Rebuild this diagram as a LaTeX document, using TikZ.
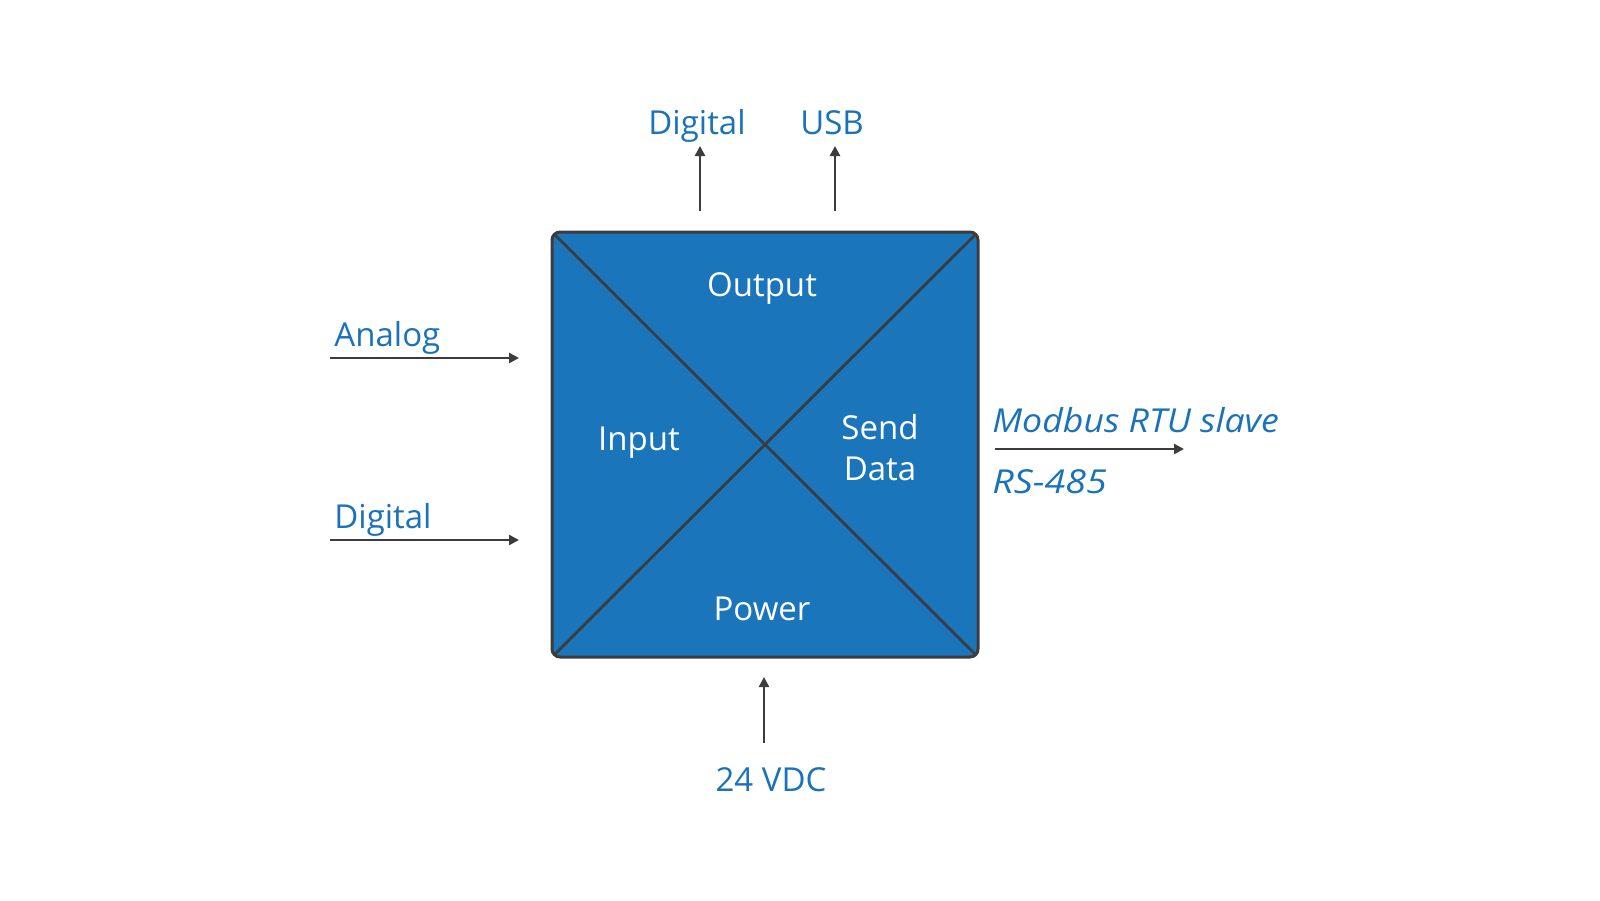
\documentclass[tikz,border=0pt]{standalone}
\usepackage{fontspec}
\setmainfont{Open Sans}
\usetikzlibrary{arrows.meta}
\definecolor{boxblue}{HTML}{1B75BB}
\definecolor{txtblue}{HTML}{1A72BA}
\definecolor{linegray}{HTML}{3C3C3E}
\tikzset{
  lbl/.style={inner sep=0pt, text=txtblue, font=\fontsize{16.5}{20}\selectfont},
  itlbl/.style={lbl, font=\fontsize{16.5}{20}\selectfont\itshape},
  inlbl/.style={inner sep=0pt, text=white, font=\fontsize{16.5}{20}\selectfont, align=center},
  conn/.style={draw=linegray, line width=1.25pt, -{Triangle[length=5pt,width=5pt]}},
  diag/.style={draw=linegray, line width=1.4pt, shorten <=1.2pt, shorten >=1.2pt},
  mainbox/.style={draw=linegray, fill=boxblue, line width=1.5pt, rounded corners=4pt}
}
\begin{document}
\begin{tikzpicture}[x=0.5pt,y=-0.5pt]
\useasboundingbox (0,0) rectangle (1600,900);
% main box
\coordinate (tl) at (552,232);
\coordinate (br) at (978,657);
\coordinate (tr) at (978,232);
\coordinate (bl) at (552,657);
\draw[mainbox] (tl) rectangle (br);
\draw[diag] (tl) -- (br);
\draw[diag] (tr) -- (bl);
% inner labels
\node[inlbl] (out) at (762,288) {Output};
\node[inlbl] (inp) at (639,443) {Input};
\node[inlbl, text width=120pt] (send) at (880,448) {Send\\[0.5pt]Data};
\node[inlbl] (pow) at (762,609) {Power};
% left inputs
\node[lbl, anchor=base west] (analog) at (334,346) {Analog};
\coordinate (a1) at (330,358);
\coordinate (a2) at (519,358);
\draw[conn] (a1) -- (a2);
\node[lbl, anchor=base west] (digl) at (334,528) {Digital};
\coordinate (d1) at (330,540);
\coordinate (d2) at (519,540);
\draw[conn] (d1) -- (d2);
% top outputs
\node[lbl, anchor=base] (digt) at (697,134) {Digital};
\coordinate (t1) at (700,211);
\coordinate (t2) at (700,146);
\draw[conn] (t1) -- (t2);
\node[lbl, anchor=base] (usb) at (832,134) {USB};
\coordinate (u1) at (835,211);
\coordinate (u2) at (835,146);
\draw[conn] (u1) -- (u2);
% bottom power
\coordinate (p1) at (764,743);
\coordinate (p2) at (764,677);
\draw[conn] (p1) -- (p2);
\node[lbl, anchor=base] (vdc) at (771,791) {24 VDC};
% right
\node[itlbl, anchor=base west] (modbus) at (992,432) {\addfontfeatures{FakeStretch=1.08}Modbus RTU slave};
\coordinate (m1) at (995,449);
\coordinate (m2) at (1184,449);
\draw[conn] (m1) -- (m2);
\node[itlbl, anchor=base west] (rs) at (992,493) {\addfontfeatures{FakeStretch=1.14}RS-485};
\end{tikzpicture}
\end{document}
